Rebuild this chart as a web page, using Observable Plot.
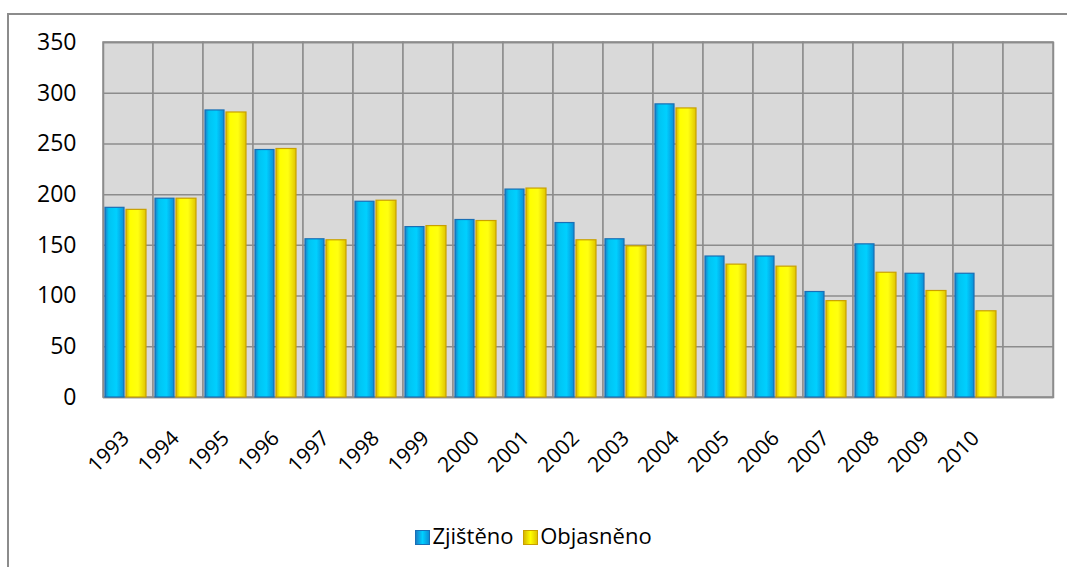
<!DOCTYPE html>
<html>
<head>
<meta charset="utf-8">
<script src="https://cdn.jsdelivr.net/npm/d3@7"></script>
<script src="https://cdn.jsdelivr.net/npm/@observablehq/plot@0.6"></script>
<style>
  body { margin: 0; background: #fff; font-family: "Open Sans", sans-serif; }
  #wrap { position: relative; width: 1067px; height: 567px; overflow: hidden; }
  #border { position: absolute; left: 7px; top: 13px; width: 1100px; height: 600px; border: 2px solid #8c8c8c; }
  #chart { position: absolute; left: 0; top: 0; }
  #legend { position: absolute; top: 520px; left: 0; width: 1067px; text-align: center; font-size: 22px; color: #000; }
  .sw { display: inline-block; width: 15px; height: 15px; vertical-align: -1px; margin-right: 2px; box-sizing: border-box; }
  .item { margin: 0 2px; }
</style>
</head>
<body>
<div id="wrap">
  <div id="border"></div>
  <div id="chart"></div>
  <div id="legend"></div>
</div>
<script>
const years = ["1993","1994","1995","1996","1997","1998","1999","2000","2001","2002","2003","2004","2005","2006","2007","2008","2009","2010"];
const categories = [...years, ""];
const zjisteno = [187,196,283,244,156,193,168,175,205,172,156,289,139,139,104,151,122,122];
const objasneno = [185,196,281,245,155,194,169,174,206,155,149,285,131,129,95,123,105,85];
const seriesNames = ["Zjištěno", "Objasněno"];
const yTicks = [0,50,100,150,200,250,300,350];

const blueData = years.map((y, i) => ({year: y, value: zjisteno[i]}));
const yellowData = years.map((y, i) => ({year: y, value: objasneno[i]}));

const plot = Plot.plot({
  width: 1067,
  height: 495,
  marginTop: 42,
  marginLeft: 103,
  marginRight: 14,
  marginBottom: 98,
  style: {fontFamily: "'Open Sans', sans-serif", fontSize: "22px", background: "transparent", color: "#000"},
  x: {domain: categories, padding: 0, axis: null},
  y: {domain: [0, 350], axis: null},
  marks: [
    Plot.cell(categories, {x: d => d, fill: "#d9d9d9", stroke: "#8c8c8c", strokeWidth: 1.5}),
    Plot.gridY(yTicks, {stroke: "#8c8c8c", strokeOpacity: 1, strokeWidth: 1.5}),
    Plot.frame({stroke: "#8c8c8c", strokeWidth: 1.5}),
    Plot.barY(blueData, {x: "year", y: "value", fill: "url(#gBlue)", stroke: "#1a6fb5", strokeWidth: 1.2, insetLeft: 2, insetRight: 29}),
    Plot.barY(yellowData, {x: "year", y: "value", fill: "url(#gYellow)", stroke: "#c9a000", strokeWidth: 1.2, insetLeft: 23, insetRight: 7}),
    Plot.axisY(yTicks, {tickSize: 0, tickPadding: 27, fontSize: 23, label: null}),
    Plot.text(years, {x: d => d, text: d => d, frameAnchor: "bottom", rotate: -45, textAnchor: "end", dx: 2, dy: 42, fontSize: 21, fill: "#000"})
  ]
});

const svg = d3.select(plot);
const defs = svg.insert("defs", ":first-child");
const gb = defs.append("linearGradient").attr("id", "gBlue").attr("x1", "0").attr("x2", "1").attr("y1", "0").attr("y2", "0");
gb.append("stop").attr("offset", "0").attr("stop-color", "#1a7fc8");
gb.append("stop").attr("offset", "0.2").attr("stop-color", "#00c4f2");
gb.append("stop").attr("offset", "0.6").attr("stop-color", "#00d0ff");
gb.append("stop").attr("offset", "1").attr("stop-color", "#0b8fd6");
const gy = defs.append("linearGradient").attr("id", "gYellow").attr("x1", "0").attr("x2", "1").attr("y1", "0").attr("y2", "0");
gy.append("stop").attr("offset", "0").attr("stop-color", "#d8b800");
gy.append("stop").attr("offset", "0.2").attr("stop-color", "#ffff00");
gy.append("stop").attr("offset", "0.6").attr("stop-color", "#ffff10");
gy.append("stop").attr("offset", "1").attr("stop-color", "#e0c400");

document.getElementById("chart").appendChild(plot);

const swatchCss = [
  "background: linear-gradient(90deg,#1a7fc8,#00d0ff 50%,#0b8fd6); border:1px solid #1a6fb5;",
  "background: linear-gradient(90deg,#d8b800,#ffff00 50%,#e0c400); border:1px solid #c9a000;"
];
document.getElementById("legend").innerHTML = seriesNames.map((n, i) =>
  `<span class="item"><span class="sw" style="${swatchCss[i]}"></span>${n}</span>`).join(" ");
</script>
</body>
</html>
